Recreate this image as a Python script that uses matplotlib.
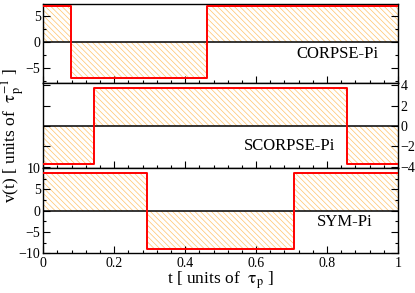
import numpy as np
import matplotlib
matplotlib.use("Agg")
import matplotlib.pyplot as plt
from matplotlib.ticker import MultipleLocator

plt.rcParams['font.family'] = ['Liberation Serif', 'DejaVu Serif']
plt.rcParams['mathtext.fontset'] = 'stix'
plt.rcParams['hatch.linewidth'] = 0.5
plt.rcParams['hatch.color'] = '#FFC46A'

# pulse shapes: switching times and amplitudes of each segment
names = ["CORPSE-Pi", "SCORPSE-Pi", "SYM-Pi"]
edges = [[0.0, 0.0769, 0.4615, 1.0],
         [0.0, 0.1429, 0.8571, 1.0],
         [0.0, 0.293, 0.707, 1.0]]
levels = [[6.8, -6.8, 6.8],
          [-3.67, 3.67, -3.67],
          [8.85, -8.95, 8.85]]
ylims = [(-7.8, 7.2), (-4.1, 4.2), (-10, 10)]
yticks = [[-5, 0, 5], [-4, -2, 0, 2, 4], [-10, -5, 0, 5, 10]]
label_pos = [(0.828, 0.367), (0.693, 0.259), (0.85, 0.365)]

fig = plt.figure(figsize=(4.15, 2.93), dpi=100)
W, H = 415, 293
left, right = 43.3 / W, 398 / W
tops = [4, 83, 168]
bots = [83, 168, 253.3]

for i in range(3):
    ax = fig.add_axes([left, 1 - bots[i] / H, right - left, (bots[i] - tops[i]) / H])
    e = edges[i]
    v = levels[i]
    for k in range(len(v)):
        ax.fill_between([e[k], e[k + 1]], 0, v[k], facecolor='none',
                        edgecolor='#FFC46A', hatch='\\' * 6, linewidth=0)
    xs = [e[0]]
    ys = [v[0]]
    for k in range(len(v)):
        xs += [e[k], e[k + 1]]
        ys += [v[k], v[k]]
    ax.plot(xs, ys, color='red', lw=1.4, zorder=3)
    ax.axhline(0, color='black', lw=1.1, zorder=2)
    ax.set_xlim(0, 1)
    ax.set_ylim(*ylims[i])
    ax.set_yticks(yticks[i])
    ax.xaxis.set_major_locator(MultipleLocator(0.2))
    ax.xaxis.set_minor_locator(MultipleLocator(0.04))
    if i != 1:
        ax.yaxis.set_minor_locator(MultipleLocator(2.5))
    ax.tick_params(which='both', direction='in', right=True, top=False, labelsize=10, pad=2)
    ax.tick_params(which='major', length=5, width=0.8)
    ax.tick_params(which='minor', length=2.5, width=0.8)
    for s in ax.spines.values():
        s.set_linewidth(1.0)
    if i == 1:
        ax.yaxis.tick_right()
        ax.tick_params(axis='y', which='both', left=True, labelleft=False, labelright=True)
    if i < 2:
        ax.tick_params(axis='x', labelbottom=False)
    else:
        ax.set_xticks([0, 0.2, 0.4, 0.6, 0.8, 1.0])
        ax.set_xticklabels(["0", "0.2", "0.4", "0.6", "0.8", "1"])
        ax.tick_params(axis='x', pad=2.5)
    ax.text(label_pos[i][0], label_pos[i][1], names[i], transform=ax.transAxes,
            ha='center', va='center', fontsize=12)

fig.text(13 / W, 1 - 135 / H, r"v(t) [ units of  $\mathrm{\tau}_\mathrm{p}^{-1}$ ]", rotation=90,
         ha='center', va='center', fontsize=12.5)
fig.text(220 / W, 1 - 284 / H, r"t [ units of  $\mathrm{\tau}_\mathrm{p}$ ]", ha='center',
         va='baseline', fontsize=12.5)

fig.savefig("out.png", dpi=100)
